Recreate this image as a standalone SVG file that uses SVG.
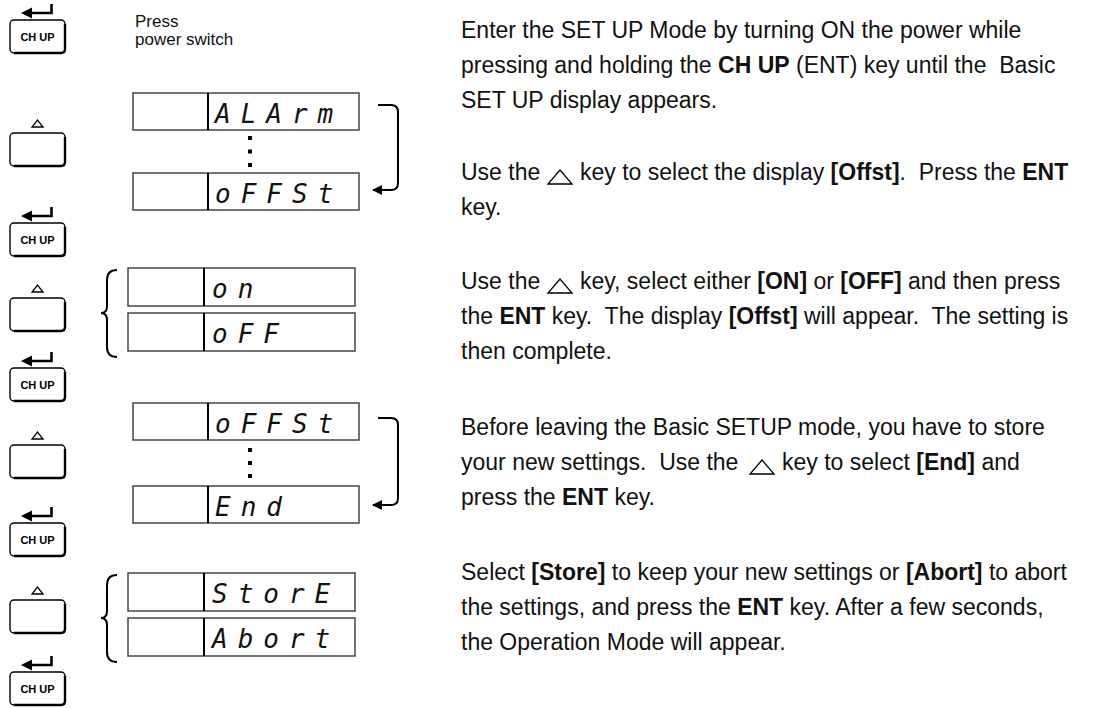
<svg xmlns="http://www.w3.org/2000/svg" xmlns:xlink="http://www.w3.org/1999/xlink" width="1108" height="708" viewBox="0 0 1108 708">
<defs>
<style>
.kb{fill:#fff;stroke:#000;stroke-width:1.4}
.sh{fill:none;stroke:#000;stroke-width:2.4}
.lbl{font-family:"Liberation Sans",Arial,sans-serif;font-weight:bold;font-size:11px;text-anchor:middle;fill:#000}
.ent{fill:none;stroke:#000;stroke-width:2.6}
.tri{fill:#fff;stroke:#000;stroke-width:1.3}
.dr{fill:#fff;stroke:#444;stroke-width:1.5}
.dv{stroke:#000;stroke-width:2}
.seg{font-family:"DejaVu Sans Mono",monospace;font-style:italic;font-size:26px;letter-spacing:10px;fill:#111}
.body{font-family:"Liberation Sans",Arial,sans-serif;font-size:23px;fill:#111;white-space:pre}
.small{font-family:"Liberation Sans",Arial,sans-serif;font-size:17px;fill:#111}
.b{font-weight:bold}
.conn{fill:none;stroke:#000;stroke-width:2}
.dot{fill:#000}
</style>
<marker id="ah" viewBox="0 0 10 10" refX="9" refY="5" markerWidth="5" markerHeight="5" orient="auto" markerUnits="strokeWidth"><path d="M0,0 L10,5 L0,10 z" fill="#000"/></marker>
<g id="chup">
<path class="ent" d="M30,-7 H51.5 V-16"/>
<polygon points="21,-7 32,-12.5 32,-1.5" fill="#000"/>
<rect class="kb" x="10" y="0" width="55" height="33" rx="4"/>
<path class="sh" d="M14,33 H61 Q65,33 65,29 V4"/>
<text class="lbl" x="37.5" y="20.5">CH UP</text>
</g>
<g id="upkey">
<polygon class="tri" points="32,-6 43,-6 37.5,-13"/>
<rect class="kb" x="10" y="0" width="55" height="33" rx="4"/>
<path class="sh" d="M14,33 H61 Q65,33 65,29 V4"/>
</g>
</defs>
<rect width="1108" height="708" fill="#fff"/>

<g id="keys">
<g id="key1"><use xlink:href="#chup" transform="translate(0,20)"/></g>
<g id="key2"><use xlink:href="#upkey" transform="translate(0,133)"/></g>
<g id="key3"><use xlink:href="#chup" transform="translate(0,223)"/></g>
<g id="key4"><use xlink:href="#upkey" transform="translate(0,298)"/></g>
<g id="key5"><use xlink:href="#chup" transform="translate(0,368)"/></g>
<g id="key6"><use xlink:href="#upkey" transform="translate(0,445)"/></g>
<g id="key7"><use xlink:href="#chup" transform="translate(0,523)"/></g>
<g id="key8"><use xlink:href="#upkey" transform="translate(0,600)"/></g>
<g id="key9"><use xlink:href="#chup" transform="translate(0,672)"/></g>
</g>

<g id="press-label">
<text class="small" x="135" y="27">Press</text>
<text class="small" x="135" y="45">power switch</text>
</g>

<g id="disp-alarm"><rect class="dr" x="133" y="93" width="226" height="37"/><line class="dv" x1="208" y1="93" x2="208" y2="130"/><text class="seg" x="215" y="123">ALArm</text></g>
<g id="disp-offst1"><rect class="dr" x="133" y="173" width="226" height="37"/><line class="dv" x1="208" y1="173" x2="208" y2="210"/><text class="seg" x="215" y="203">oFFSt</text></g>
<g id="disp-on"><rect class="dr" x="128" y="268" width="227" height="38"/><line class="dv" x1="204" y1="268" x2="204" y2="306"/><text class="seg" x="212" y="298">on</text></g>
<g id="disp-off"><rect class="dr" x="128" y="313" width="227" height="38"/><line class="dv" x1="204" y1="313" x2="204" y2="351"/><text class="seg" x="212" y="343">oFF</text></g>
<g id="disp-offst2"><rect class="dr" x="133" y="403" width="226" height="37"/><line class="dv" x1="208" y1="403" x2="208" y2="440"/><text class="seg" x="215" y="433">oFFSt</text></g>
<g id="disp-end"><rect class="dr" x="133" y="486" width="226" height="37"/><line class="dv" x1="208" y1="486" x2="208" y2="523"/><text class="seg" x="215" y="516">End</text></g>
<g id="disp-store"><rect class="dr" x="128" y="573" width="227" height="38"/><line class="dv" x1="204" y1="573" x2="204" y2="611"/><text class="seg" x="212" y="603">StorE</text></g>
<g id="disp-abort"><rect class="dr" x="128" y="618" width="227" height="38"/><line class="dv" x1="204" y1="618" x2="204" y2="656"/><text class="seg" x="212" y="648">Abort</text></g>

<g id="connectors">
<rect class="dot" x="248" y="136" width="4" height="4"/>
<rect class="dot" x="248" y="149.5" width="4" height="4"/>
<rect class="dot" x="248" y="163" width="4" height="4"/>
<rect class="dot" x="248" y="448" width="4" height="4"/>
<rect class="dot" x="248" y="461" width="4" height="4"/>
<rect class="dot" x="248" y="474" width="4" height="4"/>
<path class="conn" d="M378,105 H391 Q398,105 398,112 V183 Q398,190 391,190 H373" marker-end="url(#ah)"/>
<path class="conn" d="M378,418 H391 Q398,418 398,425 V498 Q398,505 391,505 H373" marker-end="url(#ah)"/>
<path class="conn" d="M117,270 Q107,270 107,280 V306 Q107,313 101,313 Q107,313 107,320 V347 Q107,357 117,357"/>
<path class="conn" d="M117,575 Q107,575 107,585 V611 Q107,618 101,618 Q107,618 107,625 V652 Q107,662 117,662"/>
</g>

<g id="instructions">
<text class="body" xml:space="preserve" x="461" y="38">Enter the SET UP Mode by turning ON the power while</text>
<text class="body" xml:space="preserve" x="461" y="73">pressing and holding the <tspan class="b">CH UP</tspan> (ENT) key until the  Basic</text>
<text class="body" xml:space="preserve" x="461" y="108">SET UP display appears.</text>

<text class="body" xml:space="preserve" x="461" y="180">Use the<tspan x="580">key to select the display </tspan><tspan class="b">[Offst]</tspan>.  Press the <tspan class="b">ENT</tspan></text>
<polygon class="tri" points="548,184 572,184 560,170"/>
<text class="body" xml:space="preserve" x="461" y="215">key.</text>

<text class="body" xml:space="preserve" x="461" y="289">Use the<tspan x="580">key, select either </tspan><tspan class="b">[ON]</tspan> or <tspan class="b">[OFF]</tspan> and then press</text>
<polygon class="tri" points="548,293 572,293 560,279"/>
<text class="body" xml:space="preserve" x="461" y="324">the <tspan class="b">ENT</tspan> key.  The display <tspan class="b">[Offst]</tspan> will appear.  The setting is</text>
<text class="body" xml:space="preserve" x="461" y="359">then complete.</text>

<text class="body" xml:space="preserve" x="461" y="435">Before leaving the Basic SETUP mode, you have to store</text>
<text class="body" xml:space="preserve" x="461" y="470">your new settings.  Use the<tspan x="782">key to select </tspan><tspan class="b">[End]</tspan> and</text>
<polygon class="tri" points="750,474 774,474 762,460"/>
<text class="body" xml:space="preserve" x="461" y="505">press the <tspan class="b">ENT</tspan> key.</text>

<text class="body" xml:space="preserve" x="461" y="580">Select <tspan class="b">[Store]</tspan> to keep your new settings or <tspan class="b">[Abort]</tspan> to abort</text>
<text class="body" xml:space="preserve" x="461" y="615">the settings, and press the <tspan class="b">ENT</tspan> key. After a few seconds,</text>
<text class="body" xml:space="preserve" x="461" y="650">the Operation Mode will appear.</text>
</g>
</svg>
